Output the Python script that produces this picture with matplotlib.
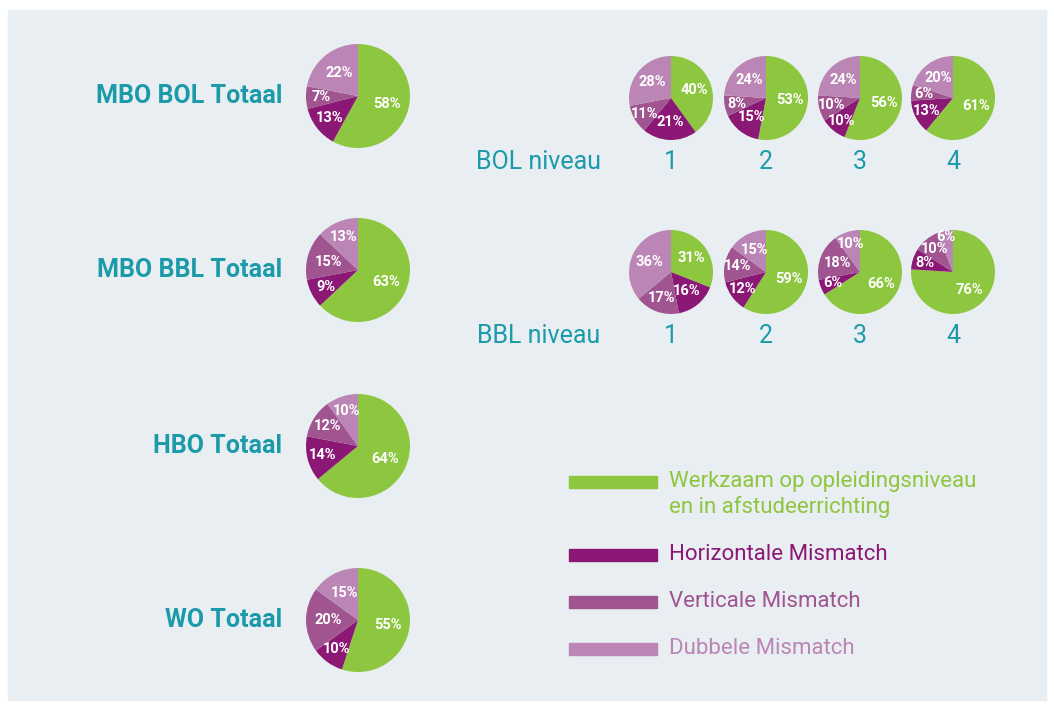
import numpy as np
import matplotlib.pyplot as plt
from matplotlib.patches import Rectangle

plt.rcParams['font.family'] = ['Roboto', 'DejaVu Sans']

# order: werkzaam, horizontaal, verticaal, dubbel
categories = ["Werkzaam op opleidingsniveau\nen in afstudeerrichting",
              "Horizontale Mismatch", "Verticale Mismatch", "Dubbele Mismatch"]
colors = ["#8dc63f", "#8c1875", "#a05490", "#bb86b5"]

totals_names = ["MBO BOL Totaal", "MBO BBL Totaal", "HBO Totaal", "WO Totaal"]
totals_values = [
    [58, 13, 7, 22],
    [63, 9, 15, 13],
    [64, 14, 12, 10],
    [55, 10, 20, 15],
]

niveaus = ["1", "2", "3", "4"]
bol_values = [
    [40, 21, 11, 28],
    [53, 15, 8, 24],
    [56, 10, 10, 24],
    [61, 13, 6, 20],
]
bbl_values = [
    [31, 16, 17, 36],
    [59, 12, 14, 15],
    [66, 6, 18, 10],
    [76, 8, 10, 6],
]

teal = "#1b9aaa"
W, H = 1054, 709

fig = plt.figure(figsize=(W / 100, H / 100), dpi=100, facecolor="white")
ax = fig.add_axes([0, 0, 1, 1])
ax.add_patch(Rectangle((8, 9), 1038, 690, color="#e9eef2", zorder=0))

all_labels = []


def draw_pie(vals, cx, cy, r, fs):
    wedges, _ = ax.pie(vals, colors=colors, startangle=90, counterclock=False,
                       center=(cx, H - cy), radius=r, frame=True)
    texts = []
    for w, v in zip(wedges, vals):
        ang = np.deg2rad((w.theta1 + w.theta2) / 2)
        d = 0.58 if v >= 15 else 0.7
        t = ax.text(cx + d * r * np.cos(ang), H - cy + d * r * np.sin(ang), f"{v}%",
                    color="white", fontsize=fs, fontweight="bold",
                    ha="center", va="center")
        texts.append((t, ang, d, cx, H - cy, r))
    all_labels.append(texts)


# big totals pies
total_y = [96, 270, 446, 620]
for name, vals, y in zip(totals_names, totals_values, total_y):
    draw_pie(vals, 358, y, 52, 10.5)
    ax.text(282, H - y, name, ha="right", va="center", fontsize=18,
            fontweight="bold", color=teal)

# niveau pies
niv_x = [671, 766, 860, 953]
for row_vals, y, lab in [(bol_values, 98, "BOL niveau"), (bbl_values, 272, "BBL niveau")]:
    for vals, x, n in zip(row_vals, niv_x, niveaus):
        draw_pie(vals, x, y, 42, 10.5)
        ax.text(x, H - (y + 64), n, ha="center", va="center", fontsize=18, color=teal)
    ax.text(539, H - (y + 64), lab, ha="center", va="center", fontsize=18, color=teal)

ax.set_xlim(0, W)
ax.set_ylim(0, H)
ax.set_aspect("equal")
ax.axis("off")

# push overlapping pie labels outward a bit
fig.canvas.draw()
r = fig.canvas.get_renderer()
for texts in all_labels:
    for i, (t, ang, d, cx, cy, rad) in enumerate(texts):
        while d < 0.86:
            bb = t.get_window_extent(r).shrunk(0.9, 0.8)
            if not any(bb.overlaps(o.get_window_extent(r).shrunk(0.9, 0.8))
                       for o, *_ in texts[:i]):
                break
            d += 0.03
            t.set_position((cx + d * rad * np.cos(ang), cy + d * rad * np.sin(ang)))

# legend
leg_y = [482, 555, 602, 649]
for cat, col, y in zip(categories, colors, leg_y):
    ax.add_patch(Rectangle((569, H - y - 6), 88, 12, color=col))
    ax.text(669, H - y + 11, cat, ha="left", va="top", fontsize=16, color=col,
            linespacing=1.25)

fig.savefig("out.png", dpi=100, facecolor="white")
